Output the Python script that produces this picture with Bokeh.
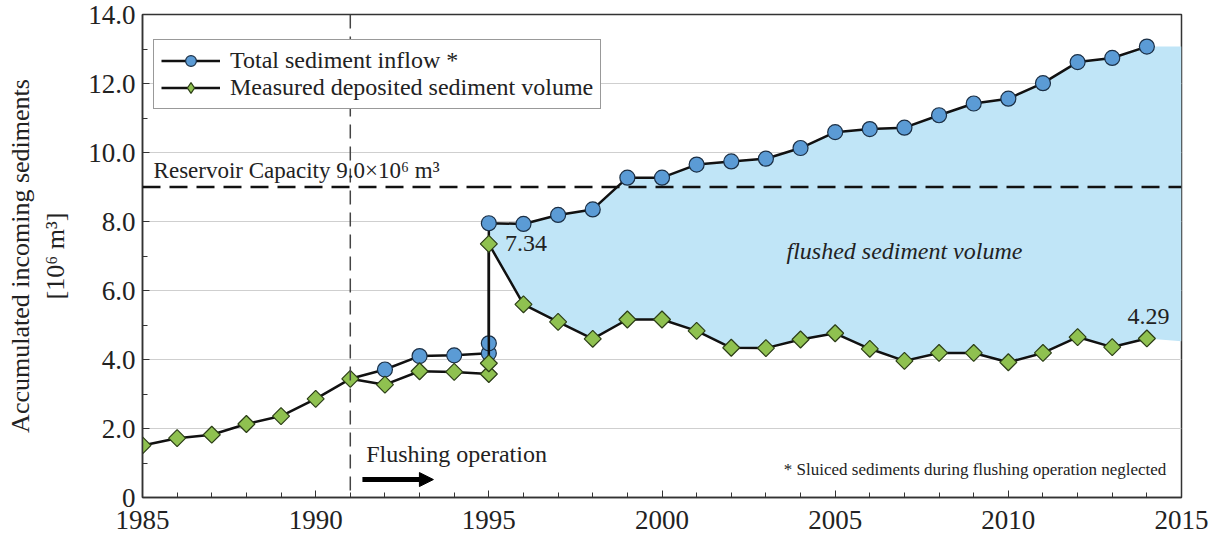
from bokeh.plotting import figure
from bokeh.models import (Span, Label, Arrow, NormalHead, Legend, LegendItem,
                          SingleIntervalTicker, NumeralTickFormatter, Range1d)
from bokeh.embed import file_html
from bokeh.resources import INLINE

# ---------------- data ----------------
inflow_years = [1991, 1992, 1993, 1994, 1995, 1995, 1995, 1996, 1997, 1998, 1999,
                2000, 2001, 2002, 2003, 2004, 2005, 2006, 2007, 2008, 2009, 2010,
                2011, 2012, 2013, 2014]
inflow = [3.44, 3.71, 4.10, 4.12, 4.18, 4.47, 7.95, 7.93, 8.19, 8.35, 9.27,
          9.27, 9.65, 9.74, 9.82, 10.13, 10.59, 10.68, 10.72, 11.08, 11.42, 11.56,
          12.01, 12.62, 12.74, 13.07]

deposit_years = [1985, 1986, 1987, 1988, 1989, 1990, 1991, 1992, 1993, 1994,
                 1995, 1995, 1995, 1996, 1997, 1998, 1999, 2000, 2001, 2002,
                 2003, 2004, 2005, 2006, 2007, 2008, 2009, 2010, 2011, 2012,
                 2013, 2014]
deposit = [1.51, 1.72, 1.82, 2.13, 2.36, 2.86, 3.44, 3.27, 3.66, 3.64,
           3.58, 3.89, 7.35, 5.60, 5.09, 4.60, 5.16, 5.16, 4.83, 4.34,
           4.33, 4.58, 4.76, 4.31, 3.96, 4.19, 4.19, 3.92, 4.19, 4.65,
           4.36, 4.61]

capacity = 9.0
flushing_start = 1991
label_first = "7.34"
label_last = "4.29"
x_ticks_interval = 5
y_ticks_interval = 2

FONT = "Liberation Serif"
TXT = "#222222"
BLUE = "#5b9bd5"
GREEN = "#8fc150"

# flushed band: from the post-flushing 1995 point onward, closed to 2015
i_in = inflow.index(7.95)
i_dep = deposit.index(7.35)
band_x = inflow_years[i_in:] + [2015]
band_hi = inflow[i_in:] + [inflow[-1]]
band_lo = deposit[i_dep:] + [deposit[-1] - 0.08]

p = figure(width=1212, height=541, x_range=Range1d(1985, 2015), y_range=Range1d(0, 14),
           output_backend="svg", toolbar_location=None,
           min_border_left=142, min_border_right=31, min_border_top=14, min_border_bottom=44)
p.background_fill_color = "white"
p.outline_line_color = "#333333"
p.outline_line_width = 1.5

p.varea(x=band_x, y1=band_lo, y2=band_hi, fill_color="#c0e5f7")

p.add_layout(Span(location=flushing_start, dimension="height", line_dash="14 8",
                  line_color="#444444", line_width=1.5))
p.add_layout(Span(location=capacity, dimension="width", line_dash="18 9",
                  line_color="#111111", line_width=2.5))

bl = p.line(inflow_years, inflow, line_color="#111111", line_width=2.5)
bp = p.scatter(inflow_years[1:], inflow[1:], marker="circle", size=15,
               fill_color=BLUE, line_color="#1b2f45", line_width=1.2)
gl = p.line(deposit_years, deposit, line_color="#111111", line_width=2.5)
# diamond glyph (used for the legend swatch), covered by the rotated squares
gdia = p.scatter(deposit_years, deposit, marker="diamond", size=12,
                 fill_color=GREEN, line_color="#2b3d16", line_width=1.2)
gp = p.scatter(deposit_years, deposit, marker="square", angle=0.785398, size=12,
               fill_color=GREEN, line_color="#2b3d16", line_width=1.2)

legend = Legend(items=[LegendItem(label="Total sediment inflow *", renderers=[bl, bp]),
                       LegendItem(label="Measured deposited sediment volume", renderers=[gl, gdia])],
                location=(11, 388), border_line_color="#333333", border_line_width=1.5,
                background_fill_alpha=1.0, label_text_font=FONT, label_text_font_size="24px",
                label_text_color=TXT, glyph_width=59, glyph_height=27, padding=7,
                spacing=0, label_standoff=10, margin=0)
p.add_layout(legend)

DY = 0.22  # baseline correction

def lab(x, y, text, **kw):
    opts = dict(text_font=FONT, text_font_size="24px", text_color=TXT,
                text_baseline="alphabetic")
    opts.update(kw)
    p.add_layout(Label(x=x, y=y + DY, text=text, **opts))

lab(1985.32, 9.25, "Reservoir Capacity 9.0×10⁶ m³", text_font_size="23px")
lab(1991.46, 1.05, "Flushing operation")
lab(1995.47, 7.14, label_first)
lab(2014.05, 5.04, label_last, text_align="center")
lab(2007.0, 6.93, "flushed sediment volume", text_align="center", text_font_style="italic")
lab(2014.56, 0.58, "* Sluiced sediments during flushing operation neglected",
    text_align="right", text_font_size="17px")

p.add_layout(Arrow(end=NormalHead(size=14, fill_color="black", line_color="black"),
                   x_start=1991.35, y_start=0.52, x_end=1993.4, y_end=0.52,
                   line_width=5, line_color="black"))

p.xaxis.ticker = SingleIntervalTicker(interval=x_ticks_interval, num_minor_ticks=5)
p.yaxis.ticker = SingleIntervalTicker(interval=y_ticks_interval, num_minor_ticks=2)
p.yaxis.formatter = NumeralTickFormatter(format="0.0")
p.yaxis.major_label_overrides = {0: "0"}
p.yaxis.axis_label = "Accumulated incoming sediments\n[10⁶ m³]"

for ax in (p.xaxis, p.yaxis):
    ax.major_tick_in = 7
    ax.major_tick_out = 0
    ax.minor_tick_in = 5
    ax.minor_tick_out = 0
    ax.axis_line_color = "#333333"
    ax.axis_line_width = 1.5
    ax.major_tick_line_color = "#333333"
    ax.minor_tick_line_color = "#333333"
    ax.major_label_text_font = FONT
    ax.major_label_text_font_size = "27px"
    ax.major_label_text_color = TXT
    ax.axis_label_text_font = FONT
    ax.axis_label_text_font_size = "26px"
    ax.axis_label_text_font_style = "normal"
    ax.axis_label_text_color = TXT
p.xaxis.major_label_standoff = 13
p.yaxis.major_label_standoff = 7
p.yaxis.axis_label_standoff = 15

p.xgrid.grid_line_color = None
p.ygrid.grid_line_color = "#cfcfcf"
p.ygrid.grid_line_width = 1

open("out.html", "w").write(file_html(p, INLINE))
